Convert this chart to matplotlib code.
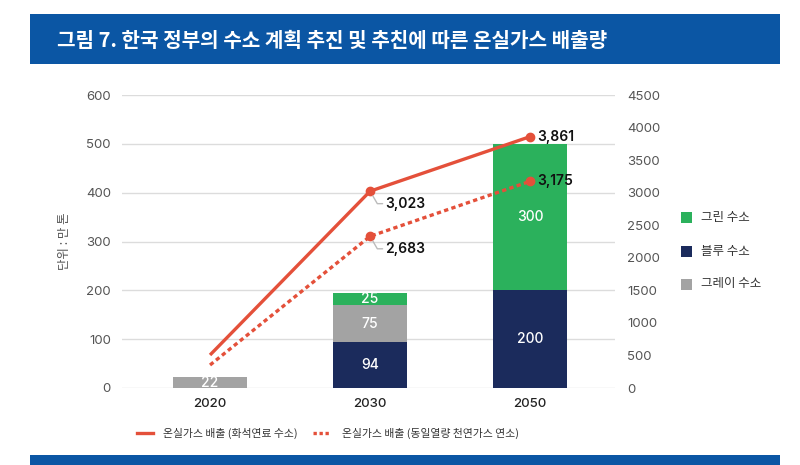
import matplotlib
matplotlib.use("Agg")
import matplotlib.pyplot as plt
from matplotlib.patches import Rectangle
from matplotlib.lines import Line2D
import numpy as np

plt.rcParams['font.family'] = ['Noto Sans CJK KR', 'DejaVu Sans']
NUMFONT = ['Inter', 'Noto Sans CJK KR']

years = ["2020", "2030", "2050"]
blue_h2 = [0, 94, 200]
gray_h2 = [22, 75, 0]
green_h2 = [0, 25, 300]
emis_fossil = [507, 3023, 3861]
emis_gas = [353, 2330, 3175]
fossil_labels = ["", "3,023", "3,861"]
gas_labels = ["", "2,683", "3,175"]

title = "그림 7. 한국 정부의 수소 계획 추진 및 추친에 따른 온실가스 배출량"

C_GREEN = "#2bb15c"
C_NAVY = "#1b2b5c"
C_GRAY = "#a3a3a3"
C_RED = "#e4503a"
C_BANNER = "#0b56a4"
C_TICK = "#555555"

fig = plt.figure(figsize=(8, 4.65), dpi=100)
fig.patch.set_facecolor("white")

# title banner
fig.add_artist(Rectangle((30/800, 1-64/465), 750/800, 50/465, transform=fig.transFigure,
                         facecolor=C_BANNER, edgecolor="none"))
fig.text(57/800, 1-40/465, title, color="white", fontsize=14.5, fontweight="bold",
         va="center", ha="left")
# bottom bar
fig.add_artist(Rectangle((30/800, 0), 750/800, 10/465, transform=fig.transFigure,
                         facecolor=C_BANNER, edgecolor="none"))

ax = fig.add_axes([122/800, 1-388/465, 493/800, 293/465])
x = np.arange(len(years))
w = 0.46
b1 = ax.bar(x, blue_h2, w, color=C_NAVY, zorder=2)
b2 = ax.bar(x, gray_h2, w, bottom=blue_h2, color=C_GRAY, zorder=2)
bottom3 = [a + b for a, b in zip(blue_h2, gray_h2)]
b3 = ax.bar(x, green_h2, w, bottom=bottom3, color=C_GREEN, zorder=2)
for vals, bots in [(blue_h2, [0]*3), (gray_h2, blue_h2), (green_h2, bottom3)]:
    for xi, v, bt in zip(x, vals, bots):
        if v > 0:
            ax.text(xi, bt + v/2, str(v), color="white", fontsize=10, family=NUMFONT,
                    fontweight="medium", ha="center", va="center", zorder=3)

ax.set_xlim(-0.55, 2.53)
ax.set_ylim(0, 600)
ax.set_yticks(range(0, 601, 100))
ax.set_xticks(x)
ax.set_xticklabels(years, fontsize=9.5, color="#222222", family=NUMFONT, fontweight="medium")
ax.tick_params(axis="y", length=0, labelsize=9.5, labelcolor=C_TICK, pad=8)
ax.tick_params(axis="x", length=0, pad=7)
for lab in ax.get_yticklabels():
    lab.set_family(NUMFONT)
ax.grid(axis="y", color="#dcdcdc", lw=1, zorder=0)
for s in ax.spines.values():
    s.set_visible(False)
ax.set_ylabel("단위 : 만 톤", fontsize=9, color=C_TICK, labelpad=11)

ax2 = ax.twinx()
ax2.set_ylim(0, 4500)
ax2.set_yticks(range(0, 4501, 500))
ax2.tick_params(axis="y", length=0, labelsize=9.5, labelcolor=C_TICK, pad=9)
for lab in ax2.get_yticklabels():
    lab.set_family(NUMFONT)
for s in ax2.spines.values():
    s.set_visible(False)

ax2.plot(x, emis_fossil, color=C_RED, lw=2.4, zorder=4, solid_capstyle="butt")
ax2.plot(x, emis_gas, color=C_RED, lw=2.4, ls=(0, (1.3, 1.0)), zorder=4)
ax2.plot(x[1:], emis_fossil[1:], "o", color=C_RED, ms=6, zorder=5)
ax2.plot(x[1:], emis_gas[1:], "o", color=C_RED, ms=6, zorder=5)

# labels
for vals, labs in [(emis_fossil, fossil_labels), (emis_gas, gas_labels)]:
    ax2.annotate(labs[2], (x[2], vals[2]), xytext=(5, 0), textcoords="offset points",
                 fontsize=10, fontweight="semibold", family=NUMFONT, va="center", ha="left",
                 color="#111111", zorder=6)
    ax2.annotate(labs[1], (x[1], vals[1]), xytext=(11, -9), textcoords="offset points",
                 fontsize=10, fontweight="semibold", family=NUMFONT, va="center", ha="left",
                 color="#111111", zorder=6,
                 arrowprops=dict(arrowstyle="-", color="#bbbbbb", lw=1,
                                 connectionstyle="angle,angleA=0,angleB=-60,rad=0",
                                 shrinkA=0, shrinkB=4))

# right legend
leg_items = [("그린 수소", C_GREEN), ("블루 수소", C_NAVY), ("그레이 수소", C_GRAY)]
for i, (lab, c) in enumerate(leg_items):
    yy = 1 - (218 + i*33)/465
    fig.add_artist(Rectangle((681/800, yy - 5.5/465), 11/800, 11/465, transform=fig.transFigure,
                             facecolor=c, edgecolor="none"))
    fig.text(701/800, yy, lab, fontsize=9, color="#333333", va="center", ha="left")

# bottom legend
yb = 1 - 433/465
fig.add_artist(Line2D([137/800, 153/800], [yb, yb], color=C_RED, lw=2.4, transform=fig.transFigure))
fig.text(163/800, yb, "온실가스 배출 (화석연료 수소)", fontsize=7.8, color="#333333", va="center", ha="left")
fig.add_artist(Line2D([313/800, 329/800], [yb, yb], color=C_RED, lw=2.4, ls=(0, (1.0, 0.8)),
                      transform=fig.transFigure))
fig.text(342/800, yb, "온실가스 배출 (동일열량 천연가스 연소)", fontsize=7.8, color="#333333", va="center", ha="left")

fig.savefig("out.png", dpi=100, facecolor="white")
